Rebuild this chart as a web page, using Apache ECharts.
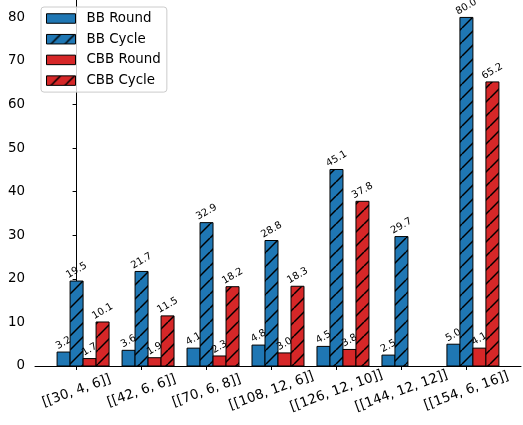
<!DOCTYPE html>
<html>
<head>
<meta charset="utf-8">
<script src="https://cdn.jsdelivr.net/npm/echarts@6/dist/echarts.min.js"></script>
<style>
  html, body { margin: 0; padding: 0; background: #fff; }
  #chart { width: 523px; height: 425px; }
</style>
</head>
<body>
<div id="chart"></div>
<script>
// Configurations on the x axis
const categories = ['[[30, 4, 6]]', '[[42, 6, 6]]', '[[70, 6, 8]]', '[[108, 12, 6]]',
                    '[[126, 12, 10]]', '[[144, 12, 12]]', '[[154, 6, 16]]'];
const seriesNames = ['BB Round', 'BB Cycle', 'CBB Round', 'CBB Cycle'];
const bbRound   = [3.2, 3.6, 4.1, 4.8, 4.5, 2.5, 5.0];
const bbCycle   = [19.5, 21.7, 32.9, 28.8, 45.1, 29.7, 80.0];
const cbbRound  = [1.7, 1.9, 2.3, 3.0, 3.8, null, 4.1];
const cbbCycle  = [10.1, 11.5, 18.2, 18.3, 37.8, null, 65.2];
const yTicks    = [0, 10, 20, 30, 40, 50, 60, 70, 80];

const FONT = "'DejaVu Sans', sans-serif";
const TICK_FS = 13.4;
const BLUE = '#1f77b4';
const RED = '#d62728';
const BAR_W = 0.2;
const OFFSETS = [-0.2, 0, 0.2, 0.4];

// '/' hatch tile
function hatch(color) {
  const s = 14;
  const c = document.createElement('canvas');
  c.width = s; c.height = s;
  const g = c.getContext('2d');
  g.fillStyle = color;
  g.fillRect(0, 0, s, s);
  g.strokeStyle = '#000';
  g.lineWidth = 1.5;
  for (let k = -1; k <= 1; k++) {
    g.beginPath();
    g.moveTo(k * s, s);
    g.lineTo(k * s + s, 0);
    g.stroke();
  }
  return { image: c, repeat: 'repeat' };
}

const fills = [BLUE, hatch(BLUE), RED, hatch(RED)];
const values = [bbRound, bbCycle, cbbRound, cbbCycle];

const measureCtx = document.createElement('canvas').getContext('2d');
const LABEL_FS = 10;
measureCtx.font = LABEL_FS + 'px ' + FONT;
const THETA = 30 * Math.PI / 180;

function renderBar(seriesIdx) {
  return function (params, api) {
    const x = api.value(0) + OFFSETS[seriesIdx];
    const v = api.value(1);
    const top = api.coord([x - BAR_W / 2, v]);
    const base = api.coord([x + BAR_W / 2, 0]);
    const txt = v.toFixed(1);
    const w = measureCtx.measureText(txt).width;
    const h = LABEL_FS * 1.16;
    const H = w * Math.sin(THETA) + h * Math.cos(THETA);
    const cx = (top[0] + base[0]) / 2;
    return {
      type: 'group',
      children: [
        {
          type: 'rect',
          shape: { x: top[0], y: top[1], width: base[0] - top[0], height: base[1] - top[1] },
          style: { fill: fills[seriesIdx], stroke: '#000', lineWidth: 1 }
        },
        {
          type: 'text',
          x: cx,
          y: top[1] - H / 2,
          rotation: THETA,
          style: {
            text: txt, x: 0, y: 0, align: 'center', verticalAlign: 'middle',
            font: LABEL_FS + 'px ' + FONT, fill: '#000'
          }
        }
      ]
    };
  };
}

const series = seriesNames.map((name, si) => ({
  type: 'custom',
  name: name,
  renderItem: renderBar(si),
  itemStyle: { color: fills[si], borderColor: '#000', borderWidth: 1 },
  encode: { x: 0, y: 1 },
  data: values[si].map((v, i) => [i, v]).filter(d => d[1] !== null),
  clip: false
}));

const chart = echarts.init(document.getElementById('chart'), null, { renderer: 'canvas' });
chart.setOption({
  animation: false,
  backgroundColor: '#fff',
  textStyle: { fontFamily: FONT },
  grid: { left: 35, right: 2, top: 0, bottom: 59, containLabel: false },
  legend: {
    orient: 'vertical',
    left: 41,
    top: 7,
    padding: [4, 6, 4, 5],
    itemWidth: 29,
    itemHeight: 9.5,
    itemGap: 5.7,
    icon: 'rect',
    backgroundColor: 'rgba(255,255,255,0.8)',
    borderColor: '#cccccc',
    borderWidth: 1,
    borderRadius: 3,
    itemStyle: { borderColor: '#000', borderWidth: 1 },
    textStyle: { fontFamily: FONT, fontSize: TICK_FS, color: '#000', lineHeight: 15, padding: [0, 0, 0, 6] },
    data: seriesNames
  },
  xAxis: {
    type: 'value',
    min: -0.64,
    max: 6.84,
    splitLine: { show: false },
    axisLine: { show: true, lineStyle: { color: '#000', width: 1 } },
    axisTick: { show: true, length: 4, lineStyle: { color: '#000' },
                customValues: categories.map((c, i) => i) },
    axisLabel: {
      customValues: categories.map((c, i) => i),
      formatter: v => categories[Math.round(v)],
      rotate: 20, align: 'center', verticalAlign: 'middle', margin: 25,
      fontFamily: FONT, fontSize: TICK_FS, color: '#000'
    }
  },
  yAxis: {
    type: 'value',
    min: 0,
    max: 84,
    splitLine: { show: false },
    axisLine: { show: true, lineStyle: { color: '#000', width: 1 } },
    axisTick: { show: true, length: 4, lineStyle: { color: '#000' }, customValues: yTicks },
    axisLabel: { customValues: yTicks, margin: 10, fontFamily: FONT, fontSize: TICK_FS, color: '#000' }
  },
  series: series
});
</script>
</body>
</html>
